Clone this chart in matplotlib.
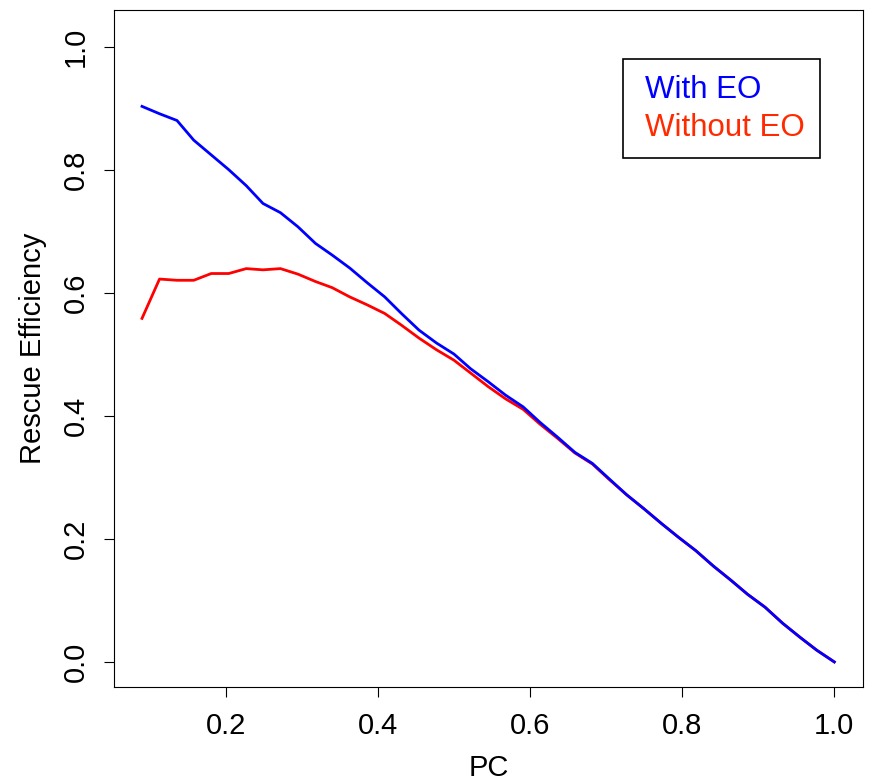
import matplotlib
matplotlib.use("Agg")
from matplotlib import pyplot as plt
from matplotlib.lines import Line2D

# PC values (x axis)
pc = [0.090, 0.113, 0.136, 0.158, 0.181, 0.204, 0.227, 0.249, 0.272, 0.295,
      0.318, 0.340, 0.363, 0.386, 0.409, 0.431, 0.454, 0.477, 0.500, 0.522,
      0.545, 0.568, 0.591, 0.613, 0.636, 0.659, 0.682, 0.704, 0.727, 0.750,
      0.773, 0.795, 0.818, 0.841, 0.864, 0.886, 0.909, 0.932, 0.955, 0.977,
      1.000]

# rescue efficiency, with and without EO
with_eo = [0.904, 0.892, 0.881, 0.849, 0.825, 0.801, 0.775, 0.746, 0.731, 0.708,
           0.681, 0.662, 0.641, 0.617, 0.594, 0.567, 0.540, 0.519, 0.501, 0.477,
           0.456, 0.434, 0.415, 0.390, 0.366, 0.341, 0.323, 0.298, 0.272, 0.249,
           0.225, 0.203, 0.181, 0.156, 0.133, 0.110, 0.089, 0.063, 0.040, 0.019,
           0.000]
without_eo = [0.559, 0.623, 0.621, 0.621, 0.632, 0.632, 0.640, 0.638, 0.640, 0.631,
              0.619, 0.609, 0.594, 0.581, 0.567, 0.548, 0.527, 0.508, 0.491, 0.470,
              0.448, 0.428, 0.411, 0.387, 0.364, 0.340, 0.322, 0.297, 0.272, 0.249,
              0.225, 0.203, 0.181, 0.156, 0.133, 0.110, 0.089, 0.063, 0.040, 0.019,
              0.000]

legend_labels = ["With EO", "Without EO"]
xticks = [0.2, 0.4, 0.6, 0.8, 1.0]
yticks = [0.0, 0.2, 0.4, 0.6, 0.8, 1.0]

plt.rcParams['font.family'] = ['Liberation Sans', 'DejaVu Sans']
FS = 21

fig = plt.figure(figsize=(8.71, 7.82), dpi=100)
ax = fig.add_axes([0.1309, 0.1215, 0.8599, 0.8657])

ax.plot(pc, without_eo, color='#ff0000', lw=2)
ax.plot(pc, with_eo, color='#0000ff', lw=2)

ax.set_xlim(0.0532, 1.0377)
ax.set_ylim(-0.0408, 1.0608)
ax.set_xticks(xticks)
ax.set_yticks(yticks)
ax.set_xticklabels(["%.1f" % t for t in xticks])
ax.set_yticklabels(["%.1f" % t for t in yticks], rotation=90, va='center')
ax.tick_params(direction='out', length=7.2, width=0.8, labelsize=FS)
ax.tick_params(axis='x', pad=10.5)
ax.tick_params(axis='y', pad=10)
for s in ax.spines.values():
    s.set_linewidth(0.8)

ax.set_xlabel("PC", fontsize=FS, va='center')
ax.xaxis.set_label_coords(0.5, -0.1196)
ax.set_ylabel("Rescue Efficiency", fontsize=FS, va='center')
ax.yaxis.set_label_coords(-0.108, 0.5)

# legend: text only, coloured labels
handles = [Line2D([], [], color='none') for _ in legend_labels]
leg = ax.legend(handles, legend_labels, loc='upper right',
                bbox_to_anchor=(0.9426, 0.9272), fontsize=22.5,
                labelcolor=['#0000ff', '#ff2a00'], handlelength=0.0,
                handletextpad=0.2, borderpad=0.5, labelspacing=0.25,
                borderaxespad=0, fancybox=False, framealpha=1)
leg.get_frame().set_edgecolor('black')
leg.get_frame().set_linewidth(1.2)

fig.savefig('out.png', dpi=100)
